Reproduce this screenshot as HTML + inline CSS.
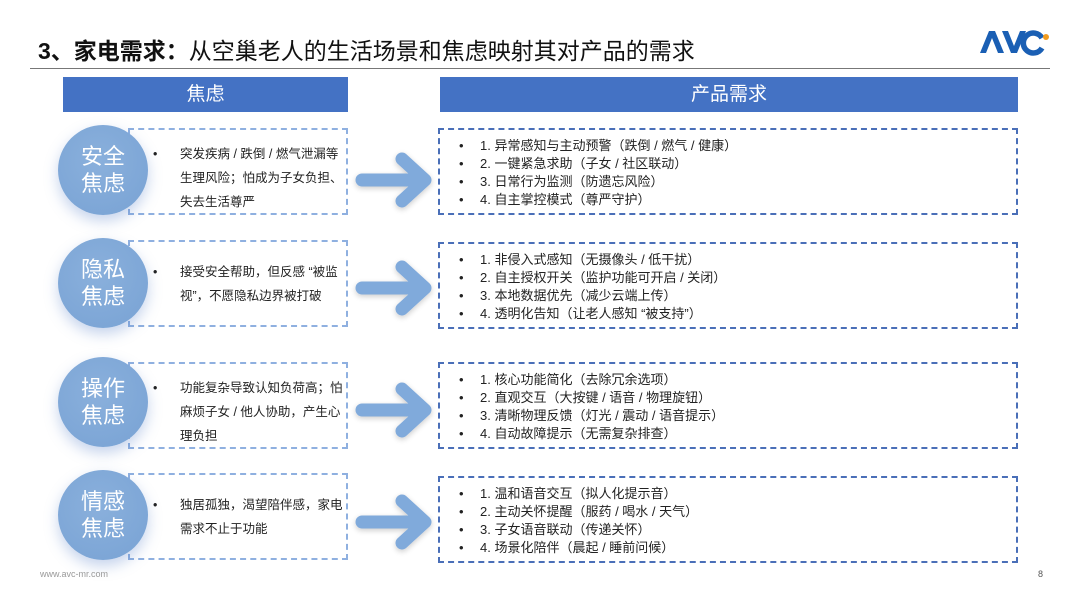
<!DOCTYPE html>
<html><head><meta charset="utf-8"><style>
*{margin:0;padding:0;box-sizing:border-box}
body{width:1080px;height:608px;background:#fff;position:relative;overflow:hidden;font-family:"Liberation Sans","Noto Sans CJK SC",sans-serif;color:#222}
.abs{position:absolute}
.title{left:38px;top:32px;font-size:23px;font-weight:bold;color:#111}
.title span{font-weight:normal}
.hline{left:30px;top:68px;width:1020px;height:1px;background:#777}
.hdr{background:#4472c4;color:#fff;font-size:19px;text-align:center;line-height:35px;top:77px;height:35px}
.circ{width:90px;height:90px;border-radius:50%;background:radial-gradient(circle at 45% 40%,#8ab0dc,#78a2d4);box-shadow:0 6px 14px rgba(90,130,200,0.35);color:#fff;font-size:22px;line-height:27px;text-align:center;padding-top:18px;left:58px}
.lbox{left:128px;width:220px;height:87px;border:2px dashed #8fb0e0;background:#fff}
.rbox{left:438px;width:580px;height:87px;border:2px dashed #4a6fb8}
.lt{font-size:12.5px;line-height:24px;position:absolute;left:50px;top:12px;width:165px}
.lt:before{content:"•";position:absolute;left:-27px;top:0}
.rl{position:absolute;left:40px;top:7px;font-size:13px;line-height:18px}
.rl div{position:relative}
.rl div:before{content:"•";position:absolute;left:-21px}
.foot{font-size:9px;color:#999}
</style></head><body>
<div class="abs title">3、家电需求：<span>从空巢老人的生活场景和焦虑映射其对产品的需求</span></div>
<div class="abs hline"></div>
<svg class="abs" style="left:978px;top:28px" width="75" height="28" viewBox="0 0 75 28">
<path d="M2 25 L11 3 L17 3 L26 25 L20 25 L14 10 L8 25Z" fill="#1a5fb4"/>
<path d="M24 3 L30 3 L36 18 L42 3 L48 3 L39 25 L33 25Z" fill="#1a5fb4"/>
<path d="M64 10 A10 10 0 1 0 64 20" stroke="#1a5fb4" stroke-width="5.5" fill="none"/>
<circle cx="68" cy="9" r="3" fill="#f39c1e"/>
</svg>
<div class="abs hdr" style="left:63px;width:285px">焦虑</div>
<div class="abs hdr" style="left:440px;width:578px">产品需求</div>

<div class="abs lbox" style="top:128px"><div class="lt">突发疾病 / 跌倒 / 燃气泄漏等生理风险；怕成为子女负担、失去生活尊严</div></div>
<div class="abs lbox" style="top:240px"><div class="lt" style="top:18px">接受安全帮助，但反感 “被监视”，不愿隐私边界被打破</div></div>
<div class="abs lbox" style="top:362px"><div class="lt">功能复杂导致认知负荷高；怕麻烦子女 / 他人协助，产生心理负担</div></div>
<div class="abs lbox" style="top:473px"><div class="lt" style="top:18px">独居孤独，渴望陪伴感，家电需求不止于功能</div></div>

<div class="abs circ" style="top:125px">安全<br>焦虑</div>
<div class="abs circ" style="top:238px">隐私<br>焦虑</div>
<div class="abs circ" style="top:357px">操作<br>焦虑</div>
<div class="abs circ" style="top:470px">情感<br>焦虑</div>

<div class="abs rbox" style="top:128px"><div class="rl"><div>1. 异常感知与主动预警（跌倒 / 燃气 / 健康）</div><div>2. 一键紧急求助（子女 / 社区联动）</div><div>3. 日常行为监测（防遗忘风险）</div><div>4. 自主掌控模式（尊严守护）</div></div></div>
<div class="abs rbox" style="top:242px"><div class="rl"><div>1. 非侵入式感知（无摄像头 / 低干扰）</div><div>2. 自主授权开关（监护功能可开启 / 关闭）</div><div>3. 本地数据优先（减少云端上传）</div><div>4. 透明化告知（让老人感知 “被支持”）</div></div></div>
<div class="abs rbox" style="top:362px"><div class="rl"><div>1. 核心功能简化（去除冗余选项）</div><div>2. 直观交互（大按键 / 语音 / 物理旋钮）</div><div>3. 清晰物理反馈（灯光 / 震动 / 语音提示）</div><div>4. 自动故障提示（无需复杂排查）</div></div></div>
<div class="abs rbox" style="top:476px"><div class="rl"><div>1. 温和语音交互（拟人化提示音）</div><div>2. 主动关怀提醒（服药 / 喝水 / 天气）</div><div>3. 子女语音联动（传递关怀）</div><div>4. 场景化陪伴（晨起 / 睡前问候）</div></div></div>

<svg class="abs" style="left:0;top:0" width="1080" height="608">
<defs><filter id="g" x="-30%" y="-30%" width="160%" height="160%"><feGaussianBlur in="SourceAlpha" stdDeviation="3"/><feOffset dy="2"/><feComponentTransfer><feFuncA type="linear" slope="0.2"/></feComponentTransfer><feMerge><feMergeNode/><feMergeNode in="SourceGraphic"/></feMerge></filter></defs>
<g stroke="#80aadb" stroke-width="13" stroke-linecap="round" stroke-linejoin="round" fill="none" filter="url(#g)">
<path d="M362 180 H424 M402 159 L425 180 L402 201"/>
<path d="M362 288 H424 M402 267 L425 288 L402 309"/>
<path d="M362 410 H424 M402 389 L425 410 L402 431"/>
<path d="M362 522 H424 M402 501 L425 522 L402 543"/>
</g></svg>

<div class="abs foot" style="left:40px;top:569px">www.avc-mr.com</div>
<div class="abs foot" style="left:1038px;top:569px;color:#555">8</div>
</body></html>
